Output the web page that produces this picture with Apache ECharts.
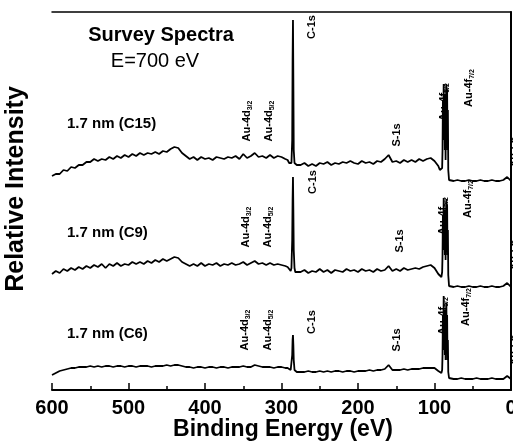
<!DOCTYPE html>
<html>
<head>
<meta charset="utf-8">
<script src="https://cdn.jsdelivr.net/npm/echarts@6/dist/echarts.min.js"></script>
<style>
html,body{margin:0;padding:0;background:#fff;}
#chart{width:513px;height:441px;}
</style>
</head>
<body>
<div id="chart"></div>
<script>
// Binding energy grid (eV)
const energy = [
  600,595,590,585,580,575,570,565,560,555,550,545,540,535,530,525,520,515,510,505,500,495,490,485,480,475,470,465,460,455,450,445,440,435,430,425,420,415,410,405,400,395,390,385,380,375,370,365,360,355,350,345,340,335,330,325,320,315,310,305,300,295,
  292,290,288,287,286,285.5,285,284.5,284,283,282,280,
  275,270,265,260,255,250,245,240,235,230,225,220,215,210,205,200,195,190,185,180,175,170,165,160,155,150,145,140,135,130,125,120,115,110,105,100,95,
  93,91,90,89.5,89,88.5,88,87.5,87,86.5,86,85.5,85,84.5,84,83.5,83,82.5,82,81,
  75,70,65,60,55,50,45,40,35,30,25,20,15,10,5,0
];
// Relative intensity (offset spectra)
const c15 = [
  214,216,216,220,219,223,222,225,225,228,228,231,229,231,230,233,231,234,232,235,233,236,234,237,235,237,236,238,236,239,238,241,243,242,237,234,231,233,230,233,231,232,230,233,232,231,233,232,234,231,236,232,234,237,233,234,232,235,232,234,233,231,
  230,227,225,227,250,330,370,310,240,227,225,225,
  225,227,224,226,224,227,226,228,225,227,226,228,227,229,227,226,229,227,228,226,229,228,231,235,228,229,227,230,228,230,228,231,229,231,232,229,224,
  220,218,222,240,290,260,306,250,295,240,280,230,290,306,260,300,240,280,220,210,
  209,210,209,209,210,209,209,210,209,209,210,209,209,210,213,209
];
const c9 = [
  116,119,117,121,119,122,120,123,121,124,122,125,123,126,122,126,124,127,124,126,125,128,126,128,126,129,127,130,128,131,129,131,133,132,128,126,124,126,124,127,124,126,125,127,124,126,125,127,125,126,128,125,127,129,126,127,125,127,125,126,125,124,
  123,121,119,122,150,190,213,180,140,122,118,118,
  118,120,117,119,118,121,118,120,117,120,119,118,121,119,120,118,121,119,120,118,121,119,120,124,119,121,119,122,120,121,122,121,123,124,125,122,116,
  114,113,118,135,175,150,192,140,180,135,165,130,175,191,145,185,135,160,115,104,
  103,104,103,103,104,103,103,104,103,103,104,103,103,104,107,103
];
const c6 = [
  15,17,19,20,21,22,22,23,23,23,24,23,24,23,24,24,23,24,24,23,24,24,23,24,24,24,23,24,24,24,25,24,25,25,24,23,23,22,23,23,22,23,23,22,23,23,22,23,23,23,24,23,23,25,24,23,23,23,22,23,23,22,
  22,21,20,22,35,50,55,45,30,20,18,18,
  18,18,19,18,18,19,18,19,18,19,19,18,19,19,18,19,19,19,20,19,20,20,21,25,20,20,20,21,20,21,21,21,22,22,22,22,19,
  18,17,20,35,75,50,94,40,80,35,70,30,78,87,45,75,30,50,18,12,
  11,11,12,11,11,11,12,11,11,11,12,11,11,11,14,11
];
const seriesNames = ['1.7 nm (C15)','1.7 nm (C9)','1.7 nm (C6)'];
const seriesValues = [c15, c9, c6];
// Peak labels: [main, subscript]
const peakLabels = [
  ['Au-4d','3/2'],['Au-4d','5/2'],['C-1s',''],['S-1s',''],['Au-4f','5/2'],['Au-4f','7/2']
];

const FONT = 'Liberation Sans, Arial, sans-serif';
const labelPos = [
  [[247,121],[269,121],[312,27],[397,135],[444,102],[469,88]],
  [[246,227],[268,227],[313,182],[400,241],[443,216],[468,199]],
  [[245,330],[268,330],[312,322],[397,340],[443,316],[466,307]]
];
const namePos = [[67,124],[67,233],[67,334]];
const edgePos = [[515,152],[515,255],[515,350]];

const chart = echarts.init(document.getElementById('chart'));
const graphic = [];
graphic.push({type:'text', x:161, y:35, style:{text:'Survey Spectra', font:'bold 20px '+FONT, fill:'#000', align:'center', verticalAlign:'middle'}});
graphic.push({type:'text', x:155, y:61, style:{text:'E=700 eV', font:'20px '+FONT, fill:'#000', align:'center', verticalAlign:'middle'}});
graphic.push({type:'text', x:16, y:189, rotation:Math.PI/2, style:{text:'Relative Intensity', font:'bold 25px '+FONT, fill:'#000', align:'center', verticalAlign:'middle'}});
graphic.push({type:'text', x:283, y:430, style:{text:'Binding Energy (eV)', font:'bold 23px '+FONT, fill:'#000', align:'center', verticalAlign:'middle'}});
seriesNames.forEach((n,i)=>{
  graphic.push({type:'text', x:namePos[i][0], y:namePos[i][1], style:{text:n, font:'bold 15px '+FONT, fill:'#000', align:'left', verticalAlign:'middle'}});
  peakLabels.forEach((p,j)=>{
    const txt = p[1] ? '{m|'+p[0]+'}{s|'+p[1]+'}' : '{m|'+p[0]+'}';
    graphic.push({type:'text', x:labelPos[i][j][0], y:labelPos[i][j][1], rotation:Math.PI/2,
      style:{text:txt, align:'center', verticalAlign:'middle', fill:'#000',
        rich:{m:{fontSize:11, fontWeight:'bold', fontFamily:FONT, lineHeight:14, fill:'#000'},
              s:{fontSize:7, fontWeight:'bold', fontFamily:FONT, lineHeight:8, verticalAlign:'bottom', fill:'#000'}}}});
  });
  graphic.push({type:'text', x:edgePos[i][0], y:edgePos[i][1], rotation:Math.PI/2,
    style:{text:'Au-5p', font:'bold 11px '+FONT, fill:'#000', align:'center', verticalAlign:'middle'}});
});

const series = seriesValues.map((vals,i)=>({
  name: seriesNames[i], type:'line', xAxisIndex:0, yAxisIndex:0,
  showSymbol:false, symbol:'none', silent:true, animation:false,
  lineStyle:{color:'#000', width:1.8},
  data: energy.map((e,k)=>[e, vals[k]])
}));

chart.setOption({
  animation:false,
  backgroundColor:'#fff',
  grid:{left:52, right:2, top:12, bottom:51, containLabel:false, outerBoundsMode:'none'},
  xAxis:[{
    type:'value', inverse:true, min:0, max:600, interval:100,
    axisLine:{show:true, lineStyle:{color:'#000', width:2}},
    axisTick:{show:true, inside:true, length:7, lineStyle:{color:'#000', width:1.5}},
    minorTick:{show:true, splitNumber:2, length:4, lineStyle:{color:'#000', width:1.5}},
    splitLine:{show:false},
    axisLabel:{fontSize:20, fontWeight:'bold', color:'#000', fontFamily:FONT, margin:8, hideOverlap:false}
  },{
    type:'value', inverse:true, min:0, max:600, position:'top',
    axisLine:{show:true, lineStyle:{color:'#000', width:1.5}},
    axisTick:{show:false}, axisLabel:{show:false}, splitLine:{show:false}
  }],
  yAxis:{
    type:'value', min:0, max:378,
    axisLine:{show:true, lineStyle:{color:'#000', width:2}},
    axisTick:{show:false}, axisLabel:{show:false}, splitLine:{show:false}
  },
  graphic: graphic,
  series: series
});
</script>
</body>
</html>
